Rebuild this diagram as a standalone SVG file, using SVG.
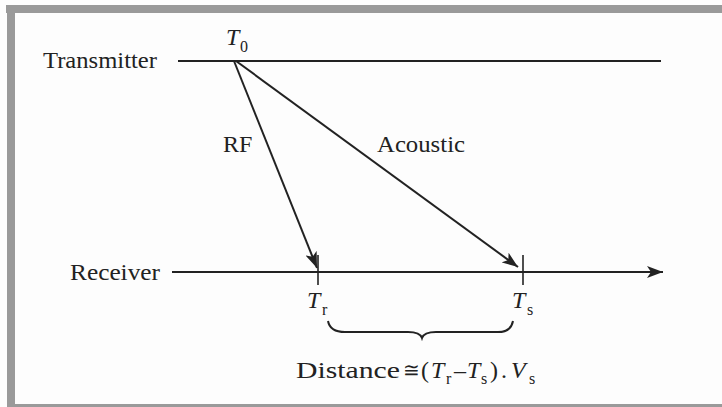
<svg xmlns="http://www.w3.org/2000/svg" width="722" height="407" viewBox="0 0 722 407">
<style>
text{font-family:"Liberation Serif","Times New Roman",serif;fill:#222}
.lbl{font-size:24px}
.it{font-style:italic}
.sub{font-size:16px}
.ln{stroke:#222;stroke-width:2;fill:none}
.tick{stroke:#222;stroke-width:1.6}
</style>
<defs>
<marker id="ah" markerWidth="18" markerHeight="12" refX="16" refY="6" orient="auto" markerUnits="userSpaceOnUse">
<path d="M0,0 L16,6 L0,12 L4,6 Z" fill="#222"/>
</marker>
</defs>
<rect x="0" y="0" width="722" height="407" fill="#fdfdfd"/>
<g id="frame" fill="#9a9a9a">
<rect x="6" y="5" width="716" height="8"/>
<rect x="7" y="5" width="8" height="402"/>
<rect x="7" y="404" width="715" height="3"/>
</g>
<g id="transmitter">
<text class="lbl" x="43" y="68" textLength="114" lengthAdjust="spacingAndGlyphs">Transmitter</text>
<line class="ln" x1="178" y1="61" x2="661" y2="61"/>
<text class="lbl it" x="226" y="45">T</text><text class="sub" x="240" y="52">0</text>
</g>
<g id="receiver">
<text class="lbl" x="70" y="280" textLength="90" lengthAdjust="spacingAndGlyphs">Receiver</text>
<line class="ln" x1="172" y1="272" x2="663" y2="272" marker-end="url(#ah)"/>
</g>
<g id="tr">
<line class="tick" x1="318" y1="255" x2="318" y2="285"/>
<text class="lbl it" x="307" y="308">T</text><text class="sub" x="322" y="315">r</text>
</g>
<g id="ts">
<line class="tick" x1="523" y1="255" x2="523" y2="285"/>
<text class="lbl it" x="512" y="308">T</text><text class="sub" x="527" y="315">s</text>
</g>
<g id="connectors">
<line class="ln" x1="234" y1="61" x2="317" y2="268" marker-end="url(#ah)"/>
<line class="ln" x1="236" y1="61" x2="518" y2="267" marker-end="url(#ah)"/>
<text class="lbl" x="223" y="152">RF</text>
<text class="lbl" x="377" y="152" textLength="88" lengthAdjust="spacingAndGlyphs">Acoustic</text>
</g>
<g id="brace">
<path class="ln" d="M328,321 Q330,332 345,332 L408,332 Q420,332 422,338 Q424,332 436,332 L498,332 Q511,332 513,321"/>
</g>
<g id="formula">
<text class="lbl" x="296" y="378" textLength="104" lengthAdjust="spacingAndGlyphs">Distance</text>
<text x="403" y="377" font-size="20">≅</text>
<text class="lbl" x="421" y="378">(</text>
<text class="lbl it" x="431" y="378">T</text><text class="sub" x="446" y="384">r</text>
<text class="lbl" x="454" y="378">–</text>
<text class="lbl it" x="467" y="378">T</text><text class="sub" x="481" y="384">s</text>
<text class="lbl" x="490" y="378">)</text>
<text class="lbl" x="501" y="378">.</text>
<text class="lbl it" x="511" y="378">V</text><text class="sub" x="529" y="384">s</text>
</g>
</svg>
